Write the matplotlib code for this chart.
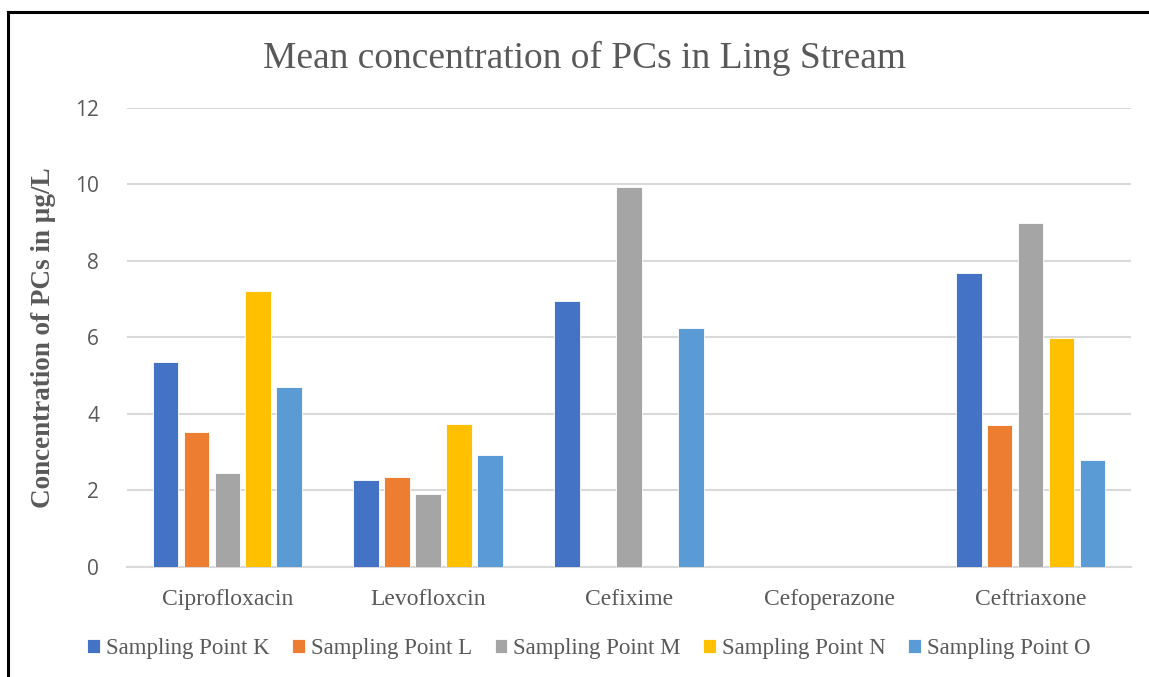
import numpy as np
import matplotlib.pyplot as plt
from matplotlib.lines import Line2D

# values (ug/L)
drugs = ['Ciprofloxacin', 'Levofloxcin', 'Cefixime', 'Cefoperazone', 'Ceftriaxone']
points = ['Sampling Point K', 'Sampling Point L', 'Sampling Point M',
          'Sampling Point N', 'Sampling Point O']
point_k = [5.36, 2.27, 6.95, 0, 7.68]
point_l = [3.53, 2.35, 0, 0, 3.70]
point_m = [2.46, 1.92, 9.94, 0, 9.00]
point_n = [7.22, 3.74, 0, 0, 5.98]
point_o = [4.71, 2.93, 6.26, 0, 2.80]
colors = ['#4472C4', '#ED7D31', '#A5A5A5', '#FFC000', '#5B9BD5']

series = [point_k, point_l, point_m, point_n, point_o]

fig = plt.figure(figsize=(11.49, 6.77), dpi=100)
ax = fig.add_axes([0.1105, 0.1625, 0.8738, 0.678])

x = np.arange(len(drugs))
step = 0.154
w = 0.128
for i, vals in enumerate(series):
    ax.bar(x + (i - 2) * step, vals, w, color=colors[i], edgecolor='white',
           linewidth=0.6, label=points[i], zorder=3)

ax.set_xlim(-0.5, len(drugs) - 0.5)
ax.set_ylim(0, 12)
ax.set_yticks(range(0, 13, 2))
ax.set_xticks(x)
ax.set_xticklabels(drugs, family='Liberation Serif', fontsize=17, color='#595959')
for lbl in ax.get_yticklabels():
    lbl.set_family('Open Sans')
    lbl.set_fontsize(15)
    lbl.set_color('#595959')
ax.tick_params(axis='y', length=0, pad=20)
ax.tick_params(axis='x', length=0, pad=16)

ax.grid(axis='y', color='#d9d9d9', lw=1.5, zorder=0)
for s in ['top', 'right', 'left']:
    ax.spines[s].set_visible(False)
ax.spines['bottom'].set_color('#d9d9d9')
ax.spines['bottom'].set_linewidth(1.5)

ax.set_ylabel('Concentration of PCs in \u00b5g/L', family='Liberation Serif',
              fontsize=19.5, fontweight='bold', color='#595959', labelpad=14)
fig.text(0.509, 0.913, 'Mean concentration of PCs in Ling Stream',
         family='Liberation Serif', fontsize=27, color='#595959',
         ha='center', va='center')

leg = ax.legend(loc='center', bbox_to_anchor=(0.46, -0.178), ncol=5, frameon=False,
                prop={'family': 'Liberation Serif', 'size': 16.5},
                handlelength=0.55, handleheight=0.55, handletextpad=0.25,
                columnspacing=1.0)
for t in leg.get_texts():
    t.set_color('#595959')

# black frame at top and left edges of the picture
fig.add_artist(Line2D([8 / 1149, 8 / 1149], [0, 1 - 12 / 677], color='black', lw=2.2,
                      transform=fig.transFigure))
fig.add_artist(Line2D([8 / 1149, 1], [1 - 12 / 677, 1 - 12 / 677], color='black', lw=2.2,
                      transform=fig.transFigure))

plt.savefig('out.png', dpi=100)
